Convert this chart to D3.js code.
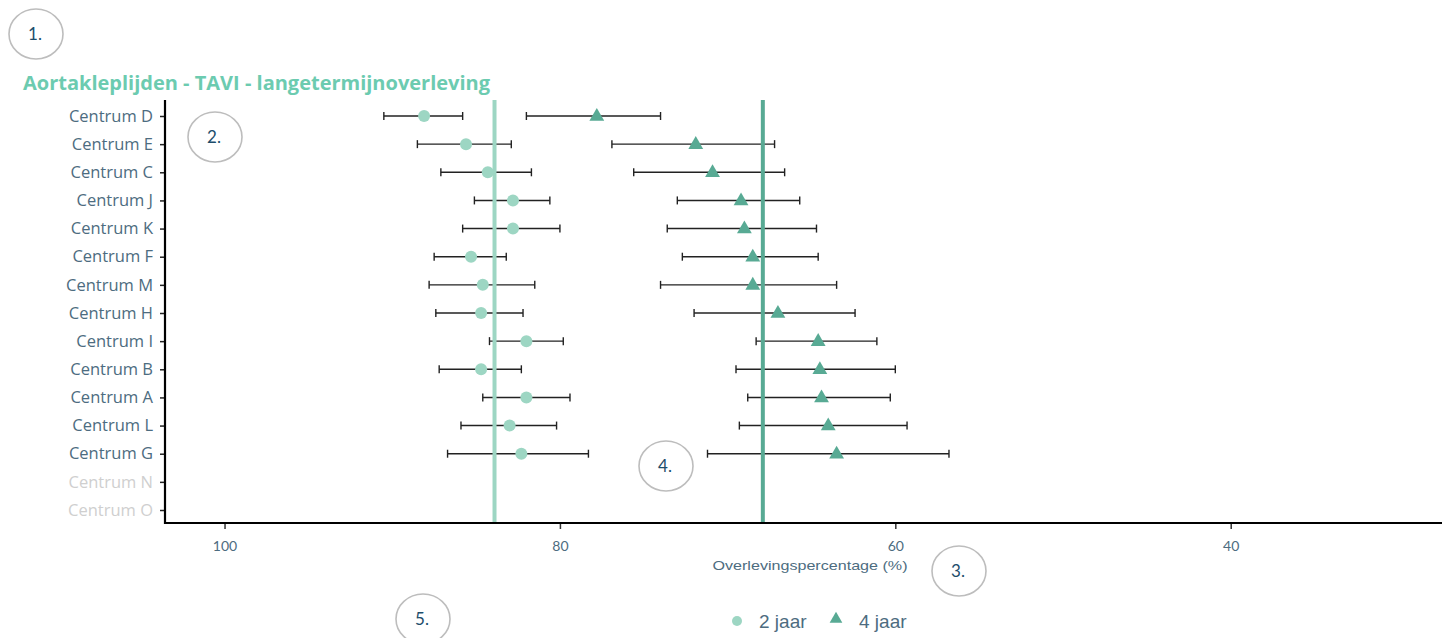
<!DOCTYPE html>
<html>
<head>
<meta charset="utf-8">
<script src="https://cdn.jsdelivr.net/npm/d3@7"></script>
<style>
  html, body { margin: 0; padding: 0; background: #fff; }
  svg { display: block; }
</style>
</head>
<body>
<svg id="chart" width="1442" height="638"></svg>
<script>
// ---- data ----
const title = "Aortakleplijden - TAVI - langetermijnoverleving";
const centres = ["Centrum D","Centrum E","Centrum C","Centrum J","Centrum K","Centrum F","Centrum M","Centrum H","Centrum I","Centrum B","Centrum A","Centrum L","Centrum G","Centrum N","Centrum O"];
const missingCentres = ["Centrum N","Centrum O"];
// 2-year survival (%) and 95% CI
const est2 = [88.1, 85.6, 84.3, 82.8, 82.8, 85.3, 84.6, 84.7, 82.0, 84.7, 82.0, 83.0, 82.3, null, null];
const lo2  = [85.8, 82.9, 81.7, 80.6, 80.0, 83.2, 81.5, 82.2, 79.8, 82.3, 79.4, 80.2, 78.3, null, null];
const hi2  = [90.5, 88.5, 87.1, 85.1, 85.8, 87.5, 87.8, 87.4, 84.2, 87.2, 84.6, 85.9, 86.7, null, null];
// 4-year survival (%) and 95% CI
const est4 = [77.8, 71.9, 70.9, 69.2, 69.0, 68.5, 68.5, 67.0, 64.6, 64.5, 64.4, 64.0, 63.5, null, null];
const lo4  = [74.0, 67.2, 66.6, 65.7, 64.7, 64.6, 63.5, 62.4, 61.1, 60.0, 60.3, 59.3, 56.8, null, null];
const hi4  = [82.0, 76.9, 75.6, 73.0, 73.6, 72.7, 74.0, 72.0, 68.3, 69.5, 68.8, 69.3, 71.2, null, null];
// national averages
const avg2 = 83.9;
const avg4 = 67.9;
const xTicks = [100, 80, 60, 40];
const xDomain = [103.55, 27.4];
const xTitle = "Overlevingspercentage (%)";
const legendLabels = ["2 jaar", "4 jaar"];
const annotations = ["1.", "2.", "3.", "4.", "5."];

// ---- styling ----
const col2 = "#9dd6c3";
const col4 = "#58aa94";
const labelCol = "#4d6c80";
const font = "Lato, 'Open Sans', sans-serif";
const font2 = "'Open Sans', Lato, sans-serif";

const svg = d3.select("#chart");

const x = d3.scaleLinear().domain(xDomain).range([165, 1442]);
const y = d3.scalePoint().domain(centres).range([116, 510]);
const plotTop = 100, plotBottom = 523;

// title
svg.append("text")
  .attr("x", 23).attr("y", 90)
  .attr("font-family", font2).attr("font-weight", "bold")
  .attr("font-size", 19).attr("fill", "#6ccbb0")
  .attr("textLength", 467).attr("lengthAdjust", "spacingAndGlyphs")
  .text(title);

// y axis
const yAxis = svg.append("g").attr("transform", "translate(165,0)")
  .call(d3.axisLeft(y).tickSize(5).tickPadding(7));
yAxis.select(".domain").remove();
yAxis.selectAll(".tick line").attr("stroke", "#222").attr("stroke-width", 1.5);
yAxis.selectAll(".tick text")
  .attr("font-family", font2).attr("font-size", 16.5)
  .attr("fill", d => missingCentres.includes(d) ? "#cfcfcf" : labelCol);

// x axis
const xAxis = svg.append("g").attr("transform", `translate(0,${plotBottom})`)
  .call(d3.axisBottom(x).tickValues(xTicks).tickSize(6).tickPadding(12));
xAxis.select(".domain").remove();
xAxis.selectAll(".tick line").attr("stroke", "#333").attr("stroke-width", 1.5);
xAxis.selectAll(".tick text")
  .attr("font-family", font).attr("font-size", 14).attr("fill", labelCol);

// axis lines
svg.append("line").attr("x1", 165).attr("x2", 165).attr("y1", plotTop).attr("y2", plotBottom + 1)
  .attr("stroke", "#000").attr("stroke-width", 2.2);
svg.append("line").attr("x1", 164).attr("x2", 1442).attr("y1", plotBottom).attr("y2", plotBottom)
  .attr("stroke", "#000").attr("stroke-width", 2.2);

// x title
svg.append("text")
  .attr("x", 810).attr("y", 570).attr("text-anchor", "middle")
  .attr("font-family", "'Liberation Sans Narrow', 'Liberation Sans', sans-serif")
  .attr("font-size", 13.5).attr("fill", labelCol)
  .attr("textLength", 195).attr("lengthAdjust", "spacingAndGlyphs")
  .text(xTitle);

// data rows
const rows = centres.map((c, i) => ({c, e2: est2[i], l2: lo2[i], h2: hi2[i], e4: est4[i], l4: lo4[i], h4: hi4[i]}))
  .filter(d => d.e2 != null);

const capH = 4;
function errorBars(lk, hk) {
  const g = svg.append("g").attr("stroke", "#222").attr("stroke-width", 1.4);
  rows.forEach(d => {
    const yy = y(d.c);
    g.append("line").attr("x1", x(d[hk])).attr("x2", x(d[lk])).attr("y1", yy).attr("y2", yy);
    g.append("line").attr("x1", x(d[hk])).attr("x2", x(d[hk])).attr("y1", yy - capH).attr("y2", yy + capH);
    g.append("line").attr("x1", x(d[lk])).attr("x2", x(d[lk])).attr("y1", yy - capH).attr("y2", yy + capH);
  });
}
errorBars("l2", "h2");
errorBars("l4", "h4");

// markers
svg.append("g").selectAll("circle").data(rows).join("circle")
  .attr("cx", d => x(d.e2)).attr("cy", d => y(d.c)).attr("r", 6).attr("fill", col2);
const tri = d3.symbol().type(d3.symbolTriangle).size(95);
svg.append("g").selectAll("path").data(rows).join("path")
  .attr("d", tri).attr("transform", d => `translate(${x(d.e4)},${y(d.c) + 0.5})`).attr("fill", col4);

// average lines
svg.append("line").attr("x1", x(avg2)).attr("x2", x(avg2)).attr("y1", plotTop).attr("y2", plotBottom - 1)
  .attr("stroke", col2).attr("stroke-width", 4);
svg.append("line").attr("x1", x(avg4)).attr("x2", x(avg4)).attr("y1", plotTop).attr("y2", plotBottom - 1)
  .attr("stroke", col4).attr("stroke-width", 4);

// legend
const lg = svg.append("g");
lg.append("circle").attr("cx", 737).attr("cy", 621).attr("r", 5).attr("fill", col2);
lg.append("text").attr("x", 759).attr("y", 628).attr("font-family", "'Liberation Sans', Arial, sans-serif")
  .attr("font-size", 19).attr("fill", labelCol).text(legendLabels[0]);
lg.append("path").attr("d", d3.symbol().type(d3.symbolTriangle).size(70)).attr("transform", "translate(836,619)").attr("fill", col4);
lg.append("text").attr("x", 859).attr("y", 628).attr("font-family", "'Liberation Sans', Arial, sans-serif")
  .attr("font-size", 19).attr("fill", labelCol).text(legendLabels[1]);

// numbered annotation circles
const annPos = [[36, 34], [215, 137], [959, 571], [666, 466], [423, 619]];
annotations.forEach((t, i) => {
  const g = svg.append("g").attr("transform", `translate(${annPos[i][0]},${annPos[i][1]})`);
  g.append("ellipse").attr("rx", 27).attr("ry", 25).attr("fill", "#fff").attr("fill-opacity", 0)
    .attr("stroke", "#bdbdbd").attr("stroke-width", 1.6);
  g.append("text").attr("text-anchor", "middle").attr("y", 6).attr("x", -1)
    .attr("font-family", font).attr("font-size", 17).attr("fill", "#1d4d6b").text(t);
});
</script>
</body>
</html>
